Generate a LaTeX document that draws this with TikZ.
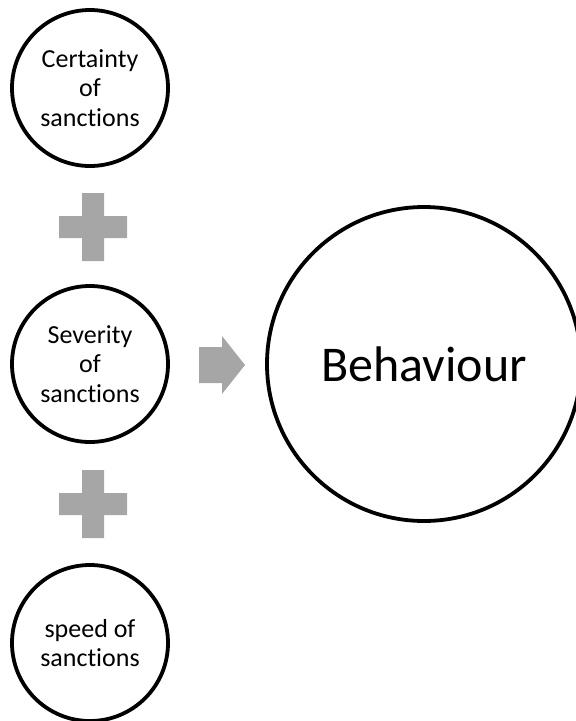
\documentclass[tikz,border=0pt]{standalone}
\usepackage{fontspec}
\setmainfont{Carlito}[Ligatures=NoCommon]
\definecolor{opgray}{RGB}{166,166,166}
\tikzset{
  factor/.style={circle, draw=black, line width=3.8pt, minimum size=156pt,
    inner sep=0pt, align=center, font=\fontsize{26}{29.5}\selectfont},
  result/.style={circle, draw=black, line width=3.8pt, minimum size=314pt,
    inner sep=0pt, align=center, font=\fontsize{50}{58}\selectfont},
  plusfill/.style={fill=opgray, draw=none},
}
\begin{document}
\begin{tikzpicture}[x=1pt, y=-1pt]
  \useasboundingbox (0,0) rectangle (576,721);
  % three factor circles and the result circle
  \node[factor] (cert) at (90,88)  {Certainty\\of\\sanctions};
  \node[factor] (sev)  at (90,364) {Severity\\of\\sanctions};
  \node[factor] (spd)  at (90,643) {speed of\\sanctions};
  \node[result] (beh)  at (424,364) {Behaviour};
  % plus signs between the factors
  \foreach \cy in {227,504} {
    \fill[plusfill] (59,\cy-11) -- (82,\cy-11) -- (82,\cy-34) -- (104,\cy-34)
      -- (104,\cy-11) -- (127,\cy-11) -- (127,\cy+11) -- (104,\cy+11)
      -- (104,\cy+34) -- (82,\cy+34) -- (82,\cy+11) -- (59,\cy+11) -- cycle;
  }
  % block arrow towards the result
  \fill[plusfill] (199,347) -- (222,347) -- (222,336) -- (245,365)
    -- (222,394) -- (222,383) -- (199,383) -- cycle;
\end{tikzpicture}
\end{document}
